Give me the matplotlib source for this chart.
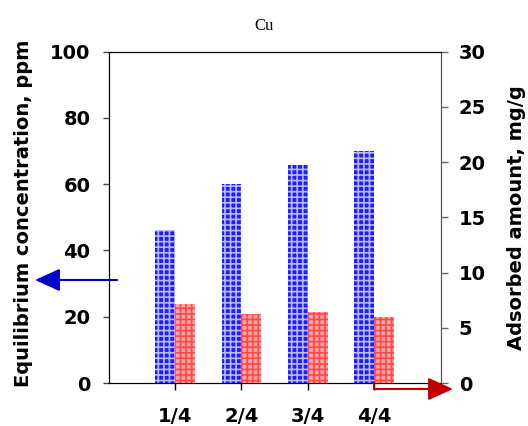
import numpy as np
import matplotlib
matplotlib.use("Agg")
import matplotlib.pyplot as plt
from matplotlib.lines import Line2D
from matplotlib.patches import FancyArrowPatch

# values
groups = ["1/4", "2/4", "3/4", "4/4"]
conc_ppm = [46.2, 60.1, 65.8, 70.0]      # left axis
adsorbed_mg_g = [7.2, 6.25, 6.45, 5.95]  # right axis

plt.rcParams["hatch.linewidth"] = 1.2

fig = plt.figure(figsize=(5.28, 4.26), dpi=100)
ax = fig.add_axes([0.2055, 0.1009, 0.6295, 0.7777])
ax2 = ax.twinx()

x = np.arange(1, len(groups) + 1)
w = 0.3

# blue bars left of each tick, red bars right of it
ax.bar(x - w, conc_ppm, width=w, align="edge", facecolor="#1E1EFA",
       edgecolor="#B8B8FF", hatch="+++", linewidth=0, zorder=2)
ax2.bar(x, adsorbed_mg_g, width=w, align="edge", facecolor="#FFA4A4",
        edgecolor="#FF4848", hatch="+++", linewidth=0, zorder=2)

ax.set_xlim(0, 5)
ax.set_ylim(0, 100)
ax2.set_ylim(0, 30)
ax.set_xticks(x)
ax.set_xticklabels(groups)
ax.set_yticks(np.arange(0, 101, 20))
ax2.set_yticks(np.arange(0, 31, 5))

for lab in ax.get_xticklabels() + ax.get_yticklabels() + ax2.get_yticklabels():
    lab.set_fontsize(14)
    lab.set_fontweight("bold")

ax.tick_params(axis="y", direction="out", length=4, width=1, color="#444444", pad=9)
ax.tick_params(axis="x", direction="out", length=5, width=1, pad=12)
ax2.tick_params(axis="y", direction="out", length=5, width=1, color="#666666", pad=8)

for a in (ax, ax2):
    a.spines["top"].set_color("black")
    a.spines["left"].set_color("black")
    a.spines["bottom"].set_color("black")
    a.spines["right"].set_color("#555555")
    a.patch.set_visible(False)

bold = dict(fontsize=14, fontweight="bold", family="DejaVu Sans")
fig.text(0.045, 0.50, "Equilibrium concentration, ppm", rotation=90,
         ha="center", va="center", **bold)
fig.text(0.978, 0.488, "Adsorbed amount, mg/g", rotation=90,
         ha="center", va="center", **bold)
fig.text(0.50, 0.94, "Cu", ha="center", va="center", fontsize=12,
         family="Liberation Serif")

head = "-|>,head_length=1.1,head_width=0.5"

# blue arrow pointing to the left axis
fig.add_artist(FancyArrowPatch(
    (117 / 528, 1 - 280 / 426), (35 / 528, 1 - 280 / 426),
    transform=fig.transFigure, arrowstyle=head,
    mutation_scale=14, color="#0000CC", linewidth=1.5, shrinkA=0, shrinkB=0))

# red arrow pointing to the right axis
y0 = 1 - 383 / 426
y1 = 1 - 389 / 426
xs = 374 / 528
fig.add_artist(Line2D([xs, xs], [y0, y1], transform=fig.transFigure,
                      color="#C00000", linewidth=1.5))
fig.add_artist(FancyArrowPatch(
    (xs, y1), (453 / 528, y1),
    transform=fig.transFigure, arrowstyle=head,
    mutation_scale=14, color="#C00000", linewidth=1.5, shrinkA=0, shrinkB=0))

fig.savefig("out.png", dpi=100)
